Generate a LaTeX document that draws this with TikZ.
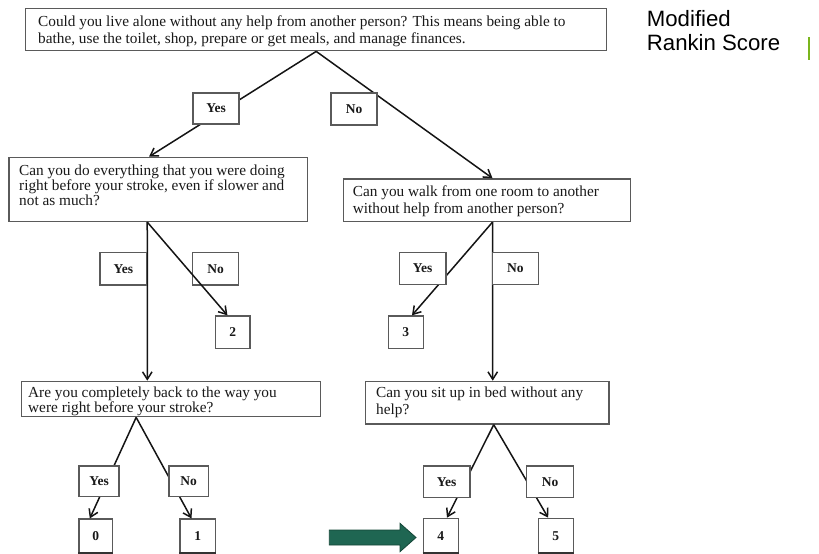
\documentclass[tikz,border=0pt]{standalone}
\usepackage{fontspec}
\setmainfont{Liberation Serif}
\newfontfamily\titlefont{Liberation Sans}
\usetikzlibrary{arrows.meta,calc}
\definecolor{boxgray}{RGB}{90,90,90}
\definecolor{linek}{RGB}{20,20,20}
\definecolor{arrowgreen}{RGB}{31,102,82}
\definecolor{arrowedge}{RGB}{20,70,55}
\definecolor{bargreen}{RGB}{122,181,29}
\newcommand{\qlines}[2]{\parbox[t]{600pt}{\raggedright\fontsize{15.3}{#1}\selectfont #2}}
\begin{document}
\begin{tikzpicture}[x=1pt,y=-1pt,
  qbox/.style={draw=boxgray, line width=1.4pt, fill=white, inner sep=0pt, anchor=north west},
  qtext/.style={anchor=base west, inner sep=0pt, text=black!90},
  tag/.style={draw=boxgray, line width=1.4pt, fill=white, inner sep=0pt,
              font=\fontsize{13.5}{15}\selectfont\bfseries, text=black!90},
  score/.style={tag},
  link/.style={draw=linek, line width=1.5pt},
  arrow/.style={link, -{Straight Barb[length=7.5pt,width=9.5pt]}},
]
\useasboundingbox (0,0) rectangle (819,554);

% question boxes
\node[qbox, minimum width=581pt, minimum height=42.5pt] (q1) at (25,7.5) {};
\node[qbox, minimum width=298.7pt, minimum height=64pt] (q2) at (8.3,156.7) {};
\node[qbox, minimum width=287.3pt, minimum height=42.4pt] (q3) at (342.7,178.3) {};
\node[qbox, minimum width=299.3pt, minimum height=35.3pt] (q4) at (20.7,380.7) {};
\node[qbox, minimum width=243.3pt, minimum height=42.6pt] (q5) at (365,380.7) {};

% question texts
\node[qtext] (q1t) at (38,26) {\qlines{17.4}{Could you live alone without any help from another person? This means being able to\\bathe, use the toilet, shop, prepare or get meals, and manage finances.}};
\node[qtext] (q2t) at (19,175) {\qlines{15}{Can you do everything that you were doing\\right before your stroke, even if slower and\\not as much?}};
\node[qtext] (q3t) at (352.7,196) {\qlines{17.4}{Can you walk from one room to another\\without help from another person?}};
\node[qtext] (q4t) at (28,397.5) {\qlines{14.5}{Are you completely back to the way you\\were right before your stroke?}};
\node[qtext] (q5t) at (376,397) {\qlines{17}{Can you sit up in bed without any\\help?}};

% scores
\node[score, minimum width=34.3pt, minimum height=32.3pt] (s2) at (232.8,332.2) {2};
\node[score, minimum width=35pt, minimum height=32.3pt] (s3) at (405.8,332.2) {3};
\node[score, minimum width=33.3pt, minimum height=33.7pt] (s0) at (95.7,536) {0};
\node[score, minimum width=35.7pt, minimum height=33.7pt] (s1) at (197.8,536) {1};
\node[score, minimum width=35pt, minimum height=34.7pt] (s4) at (440.8,535.7) {4};
\node[score, minimum width=35pt, minimum height=34.7pt] (s5) at (555.8,535.7) {5};
\foreach \s in {s0,s1,s4,s5}
  \draw[line width=2.6pt, draw=black!80] (\s.south west) -- (\s.south east);

% branch points
\coordinate (p1) at (q1.south);
\coordinate (p2) at ($(q2.south west)!0.463!(q2.south east)$);
\coordinate (p3) at ($(q3.south west)!0.519!(q3.south east)$);
\coordinate (p4) at ($(q4.south west)!0.384!(q4.south east)$);
\coordinate (p5) at ($(q5.south west)!0.526!(q5.south east)$);

% connectors (answer tags sit on top of them)
\draw[arrow] (p1) -- ($(q2.north west)!0.469!(q2.north east)$);
\draw[arrow] (p1) -- ($(q3.north west)!0.519!(q3.north east)$);
\draw[arrow] (p2) -- ($(q4.north west)!0.421!(q4.north east)$);
\draw[arrow] (p3) -- ($(s3.north west)!0.67!(s3.north east)$);
\draw[arrow] (p3) -- ($(q5.north west)!0.522!(q5.north east)$);
\draw[arrow] (p4) -- ($(s0.north west)!0.33!(s0.north east)$);
\draw[arrow] (p4) -- ($(s1.north west)!0.33!(s1.north east)$);
\draw[arrow] (p5) -- ($(s4.north west)!0.67!(s4.north east)$);
\draw[arrow] (p5) -- ($(s5.north west)!0.29!(s5.north east)$);

% answer tags
\node[tag, minimum width=46pt, minimum height=31pt] (y1) at (216,108.5) {Yes};
\node[tag, minimum width=46pt, minimum height=32pt] (n1) at (354,109) {No};
\node[tag, minimum width=46.7pt, minimum height=32.7pt] (y2) at (123.3,268.7) {Yes};
\node[tag, minimum width=46.4pt, minimum height=32.7pt] (n2) at (215.5,268.7) {No};
\node[tag, minimum width=46.7pt, minimum height=32pt] (y3) at (422.7,268.3) {Yes};
\node[tag, minimum width=46pt, minimum height=32pt] (n3) at (515.3,268.3) {No};
\node[tag, minimum width=40pt, minimum height=30.7pt] (y4) at (99,481.3) {Yes};
\node[tag, minimum width=39.3pt, minimum height=30.7pt] (n4) at (188.7,481.3) {No};
\node[tag, minimum width=46.7pt, minimum height=31.7pt] (y5) at (446.7,481.8) {Yes};
\node[tag, minimum width=46.6pt, minimum height=31.7pt] (n5) at (550,481.8) {No};

% this one runs across the corner of its tag
\draw[arrow] (p2) -- ($(s2.north west)!0.35!(s2.north east)$);

% pointer to score 4
\filldraw[fill=arrowgreen, draw=arrowedge, line width=0.8pt]
  (329.3,530) -- (400,530) -- (400,523.3) -- (416,537.5) -- (400,551.7)
  -- (400,545) -- (329.3,545) -- cycle;

% heading
\node[anchor=base west, inner sep=0pt, font=\titlefont\fontsize{22.2}{24}\selectfont] (h1) at (646.7,26) {Modified};
\node[anchor=base west, inner sep=0pt, font=\titlefont\fontsize{22.2}{24}\selectfont] (h2) at (646.7,50) {Rankin Score};
\fill[bargreen] (808,36.7) rectangle (810,60);
\end{tikzpicture}
\end{document}
